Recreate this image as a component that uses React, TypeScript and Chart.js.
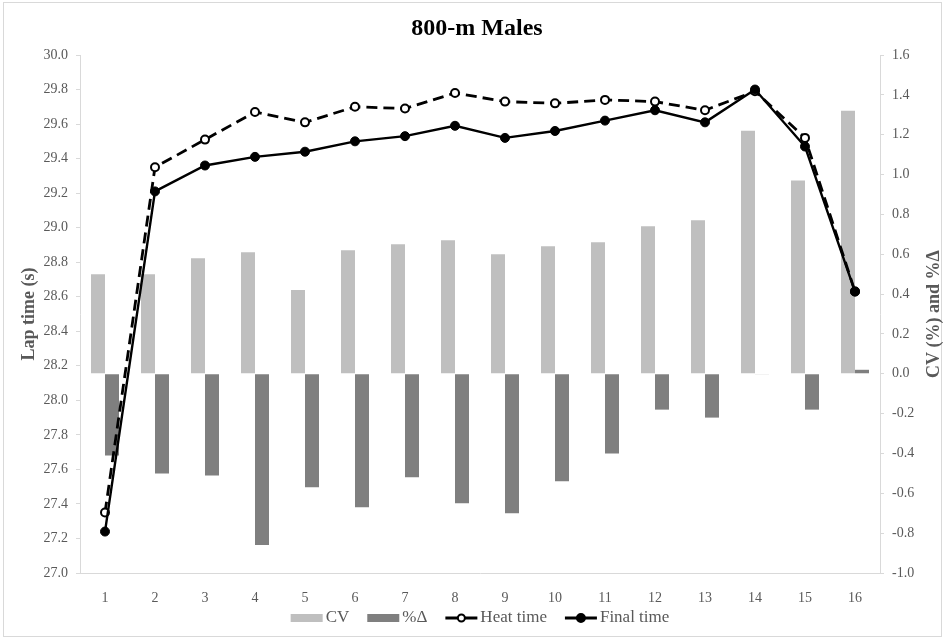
import React, { useEffect, useRef } from "react";
import { Chart, registerables } from "chart.js";

Chart.register(...registerables);

// Lap numbers on the category axis
const laps = ["1", "2", "3", "4", "5", "6", "7", "8", "9", "10", "11", "12", "13", "14", "15", "16"];

// Coefficient of variation per lap (%), right axis
const cvValues = [0.5, 0.5, 0.58, 0.61, 0.42, 0.62, 0.65, 0.67, 0.6, 0.64, 0.66, 0.74, 0.77, 1.22, 0.97, 1.32];

// Percent change between heat and final per lap, right axis
const pctDeltaValues = [-0.41, -0.5, -0.51, -0.86, -0.57, -0.67, -0.52, -0.65, -0.7, -0.54, -0.4, -0.18, -0.22, -0.003, -0.18, 0.02];

// Lap times (s), left axis
const heatTimes = [27.35, 29.35, 29.51, 29.67, 29.61, 29.7, 29.69, 29.78, 29.73, 29.72, 29.74, 29.73, 29.68, 29.79, 29.52, 28.63];
const finalTimes = [27.24, 29.21, 29.36, 29.41, 29.44, 29.5, 29.53, 29.59, 29.52, 29.56, 29.62, 29.68, 29.61, 29.8, 29.47, 28.63];

const chartTitle = "800-m Males";
const leftAxisTitle = "Lap time (s)";
const rightAxisTitle = "CV (%) and %Δ";
const legendLabels = ["CV", "%Δ", "Heat time", "Final time"];

const SERIF = "'Liberation Serif', 'Times New Roman', serif";
const TEXT_GREY = "#595959";
const AXIS_GREY = "#D9D9D9";
const CV_GREY = "#BFBFBF";
const DELTA_GREY = "#7F7F7F";

const fmt1 = (v: number | string) => {
  const n = Number(v);
  return (Math.abs(n) < 1e-9 ? 0 : n).toFixed(1);
};

const decorPlugin = {
  id: "decor",
  beforeDraw(chart: any) {
    const { ctx, width, height } = chart;
    ctx.save();
    ctx.fillStyle = "#ffffff";
    ctx.fillRect(0, 0, width, height);
    ctx.restore();
  },
  afterDraw(chart: any) {
    const { ctx, chartArea } = chart;
    const midY = (chartArea.top + chartArea.bottom) / 2;
    ctx.save();

    // outer frame
    ctx.strokeStyle = AXIS_GREY;
    ctx.lineWidth = 1;
    ctx.strokeRect(3.5, 2.5, 938, 634);

    // title
    ctx.fillStyle = "#000";
    ctx.font = `bold 24px ${SERIF}`;
    ctx.textAlign = "center";
    ctx.textBaseline = "middle";
    ctx.fillText(chartTitle, 477, 29);

    // axis titles, both reading bottom to top
    ctx.fillStyle = TEXT_GREY;
    ctx.font = `bold 18px ${SERIF}`;
    [
      [29, leftAxisTitle],
      [934, rightAxisTitle],
    ].forEach(([x, text]) => {
      ctx.save();
      ctx.translate(x as number, midY);
      ctx.rotate(-Math.PI / 2);
      ctx.fillText(text as string, 0, 0);
      ctx.restore();
    });

    // legend
    ctx.font = `17px ${SERIF}`;
    ctx.textAlign = "left";
    const markerW = 32;
    const textGap = 3;
    const itemGap = 18;
    const widths = legendLabels.map((l) => markerW + textGap + ctx.measureText(l).width);
    const total = widths.reduce((a, b) => a + b, 0) + itemGap * (legendLabels.length - 1);
    let x = (chartArea.left + chartArea.right) / 2 - total / 2;
    const y = 618;
    legendLabels.forEach((label, i) => {
      if (i === 0 || i === 1) {
        ctx.fillStyle = i === 0 ? CV_GREY : DELTA_GREY;
        ctx.fillRect(x, y - 4, markerW, 8);
      } else {
        ctx.strokeStyle = "#000";
        ctx.lineWidth = 2.8;
        ctx.setLineDash([]);
        ctx.beginPath();
        ctx.moveTo(x, y);
        ctx.lineTo(x + markerW, y);
        ctx.stroke();
        ctx.beginPath();
        ctx.arc(x + markerW / 2, y, i === 2 ? 3.5 : 4, 0, Math.PI * 2);
        ctx.fillStyle = i === 2 ? "#fff" : "#000";
        ctx.fill();
        ctx.lineWidth = 2;
        ctx.stroke();
      }
      ctx.fillStyle = TEXT_GREY;
      ctx.textBaseline = "middle";
      ctx.fillText(label, x + markerW + textGap, y);
      x += widths[i] + itemGap;
    });

    ctx.restore();
  },
};

export default function App() {
  const canvasRef = useRef<HTMLCanvasElement | null>(null);

  useEffect(() => {
    document.body.style.margin = "0";
    const canvas = canvasRef.current;
    if (!canvas) return;

    const tickFont = { family: SERIF, size: 14 };

    const chart = new Chart(canvas, {
      type: "bar",
      data: {
        labels: laps,
        datasets: [
          {
            type: "line",
            label: legendLabels[2],
            data: heatTimes,
            yAxisID: "y",
            borderColor: "#000",
            borderWidth: 2.8,
            borderDash: [11, 6],
            tension: 0,
            pointRadius: 4,
            pointBackgroundColor: "#fff",
            pointBorderColor: "#000",
            pointBorderWidth: 2,
            order: 1,
          },
          {
            type: "line",
            label: legendLabels[3],
            data: finalTimes,
            yAxisID: "y",
            borderColor: "#000",
            borderWidth: 2.4,
            tension: 0,
            pointRadius: 4.5,
            pointBackgroundColor: "#000",
            pointBorderColor: "#000",
            pointBorderWidth: 1,
            order: 0,
          },
          {
            type: "bar",
            label: legendLabels[0],
            data: cvValues,
            yAxisID: "y1",
            backgroundColor: CV_GREY,
            categoryPercentage: 0.56,
            barPercentage: 1,
            order: 2,
          },
          {
            type: "bar",
            label: legendLabels[1],
            data: pctDeltaValues,
            yAxisID: "y1",
            backgroundColor: DELTA_GREY,
            categoryPercentage: 0.56,
            barPercentage: 1,
            order: 2,
          },
        ],
      },
      options: {
        responsive: false,
        animation: false,
        layout: { padding: { top: 55, left: 0, right: 0, bottom: 0 } },
        plugins: {
          legend: { display: false },
          title: { display: false },
          tooltip: { enabled: false },
        },
        scales: {
          x: {
            grid: { display: false },
            border: { display: true, color: AXIS_GREY },
            ticks: { font: tickFont, color: TEXT_GREY, padding: 9 },
            afterFit: (s: any) => {
              s.height = 66;
            },
          },
          y: {
            position: "left",
            min: 27,
            max: 30,
            grid: { drawOnChartArea: false, drawTicks: true, tickLength: 4, color: AXIS_GREY },
            border: { display: true, color: AXIS_GREY },
            ticks: { stepSize: 0.2, font: tickFont, color: TEXT_GREY, padding: 8, callback: (v: any) => fmt1(v) },
            afterFit: (s: any) => {
              s.width = 80;
            },
          },
          y1: {
            position: "right",
            min: -1,
            max: 1.6,
            grid: { drawOnChartArea: false, drawTicks: true, tickLength: 4, color: AXIS_GREY },
            border: { display: true, color: AXIS_GREY },
            ticks: { stepSize: 0.2, font: tickFont, color: TEXT_GREY, padding: 8, callback: (v: any) => fmt1(v) },
            afterFit: (s: any) => {
              s.width = 65;
            },
          },
        },
      },
      plugins: [decorPlugin],
    });

    return () => chart.destroy();
  }, []);

  return (
    <div style={{ width: 945, height: 639 }}>
      <canvas ref={canvasRef} width={945} height={639} />
    </div>
  );
}
